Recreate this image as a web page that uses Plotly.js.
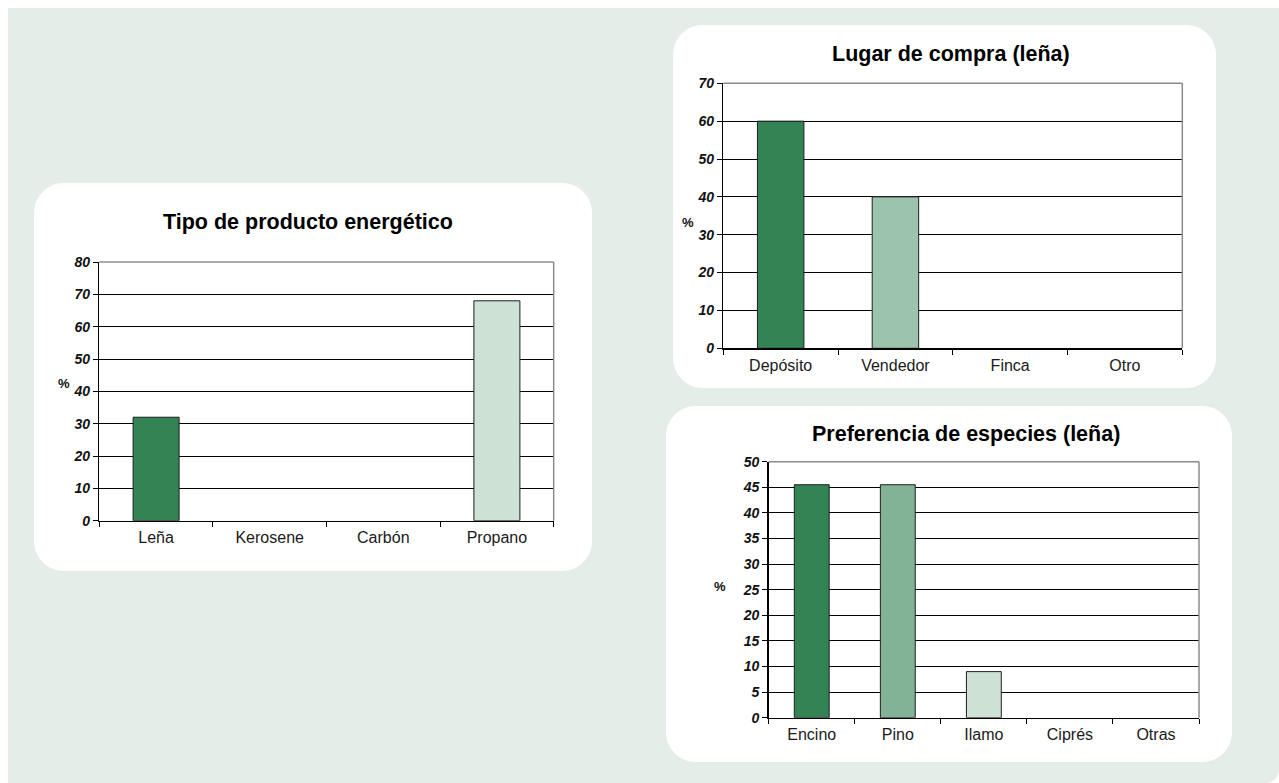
<!DOCTYPE html>
<html>
<head>
<meta charset="utf-8">
<script src="https://cdn.plot.ly/plotly-3.0.1.min.js"></script>
<style>html,body{margin:0;padding:0;background:#fff;}#chart{width:1279px;height:783px;}</style>
</head>
<body>
<div id="chart"></div>
<script>
// ---- data ----
const cat1 = ["Leña", "Kerosene", "Carbón", "Propano"];
const val1 = [32, 0, 0, 68];
const col1 = ["#338355", "#82b396", "#9cc4ad", "#cde1d4"];
const title1 = "Tipo de producto energético";
const yticks1 = [0, 10, 20, 30, 40, 50, 60, 70, 80];

const cat2 = ["Depósito", "Vendedor", "Finca", "Otro"];
const val2 = [60, 40, 0, 0];
const col2 = ["#338355", "#9cc4ad", "#cde1d4", "#cde1d4"];
const title2 = "Lugar de compra (leña)";
const yticks2 = [0, 10, 20, 30, 40, 50, 60, 70];

const cat3 = ["Encino", "Pino", "Ilamo", "Ciprés", "Otras"];
const val3 = [45.5, 45.5, 9, 0, 0];
const col3 = ["#338355", "#82b396", "#cde1d4", "#cde1d4", "#cde1d4"];
const title3 = "Preferencia de especies (leña)";
const yticks3 = [0, 5, 10, 15, 20, 25, 30, 35, 40, 45, 50];

const yLabel = "%";

// ---- layout helpers ----
const W = 1279, H = 783;
const px = x => x / W;
const py = y => 1 - y / H;
const FONT = "Liberation Sans, Arial, Helvetica, sans-serif";

function roundRect(x0, y0, x1, y1, r) {
  const k = 0.5523 * r;
  const P = (x, y) => px(x).toFixed(6) + "," + py(y).toFixed(6);
  return "M" + P(x0 + r, y0) +
    " L" + P(x1 - r, y0) +
    " C" + P(x1 - r + k, y0) + " " + P(x1, y0 + r - k) + " " + P(x1, y0 + r) +
    " L" + P(x1, y1 - r) +
    " C" + P(x1, y1 - r + k) + " " + P(x1 - r + k, y1) + " " + P(x1 - r, y1) +
    " L" + P(x0 + r, y1) +
    " C" + P(x0 + r - k, y1) + " " + P(x0, y1 - r + k) + " " + P(x0, y1 - r) +
    " L" + P(x0, y0 + r) +
    " C" + P(x0, y0 + r - k) + " " + P(x0 + r - k, y0) + " " + P(x0 + r, y0) + " Z";
}
function bgPath() {
  const P = (x, y) => px(x).toFixed(6) + "," + py(y).toFixed(6);
  return "M" + P(8, 8) + " L" + P(1279, 8) + " L" + P(1279, 768) +
    " Q" + P(1279, 783) + " " + P(1264, 783) + " L" + P(8, 783) + " Z";
}

function barTrace(cats, vals, cols, xa, ya) {
  return {
    type: "bar", x: cats, y: vals, xaxis: xa, yaxis: ya,
    marker: { color: cols, line: { color: "#1e1e1e", width: vals.map(v => v > 0 ? 1 : 0) } },
    hoverinfo: "skip", showlegend: false
  };
}

function xAxis(dom, anchor) {
  return {
    domain: dom, anchor: anchor, type: "category",
    showgrid: false, zeroline: false,
    showline: true, linecolor: "#000", linewidth: 1.5,
    ticks: "outside", tickson: "boundaries", ticklen: 5, tickcolor: "#000", tickwidth: 1,
    ticklabelstandoff: 2,
    tickfont: { family: FONT, size: 16, color: "#1a1a1a" },
    fixedrange: true
  };
}
function yAxis(dom, anchor, ticks) {
  return {
    domain: dom, anchor: anchor,
    range: [ticks[0], ticks[ticks.length - 1]],
    tickvals: ticks, ticktext: ticks.map(String),
    showgrid: true, gridcolor: "#000", gridwidth: 1,
    zeroline: false,
    showline: true, linecolor: "#000", linewidth: 1.5,
    ticks: "outside", ticklen: 5, tickcolor: "#000", tickwidth: 1,
    ticklabelstandoff: 0,
    tickfont: { family: FONT, size: 14, color: "#111", weight: "bold", style: "italic" },
    fixedrange: true
  };
}
function borderLines(xa, ya) {
  const xr = xa + " domain", yr = ya + " domain";
  return [
    { type: "line", xref: xr, yref: yr, x0: 0, y0: 1, x1: 1, y1: 1, line: { color: "#8c8c8c", width: 1.5 }, layer: "above" },
    { type: "line", xref: xr, yref: yr, x0: 1, y0: 0, x1: 1, y1: 1, line: { color: "#8c8c8c", width: 1.5 }, layer: "above" }
  ];
}
function titleAnn(text, x, y) {
  return { text: text, xref: "paper", yref: "paper", x: px(x), y: py(y),
    xanchor: "center", yanchor: "middle", showarrow: false,
    font: { family: FONT, size: 21.5, color: "#000", weight: "bold" } };
}
function pctAnn(x, y) {
  return { text: yLabel, xref: "paper", yref: "paper", x: px(x), y: py(y),
    xanchor: "center", yanchor: "middle", showarrow: false,
    font: { family: FONT, size: 13, color: "#111", weight: "bold" } };
}

const data = [
  barTrace(cat1, val1, col1, "x", "y"),
  barTrace(cat2, val2, col2, "x2", "y2"),
  barTrace(cat3, val3, col3, "x3", "y3")
];

const layout = {
  width: W, height: H,
  margin: { l: 0, r: 0, t: 0, b: 0, pad: 0 },
  paper_bgcolor: "#ffffff",
  plot_bgcolor: "rgba(0,0,0,0)",
  bargap: 0.595,
  showlegend: false,
  hovermode: false,
  xaxis: xAxis([px(99.3), px(553.7)], "y"),
  yaxis: yAxis([py(520.7), py(262)], "x", yticks1),
  xaxis2: xAxis([px(723.3), px(1182.3)], "y2"),
  yaxis2: yAxis([py(348.3), py(83.3)], "x2", yticks2),
  xaxis3: xAxis([px(768.7), px(1199)], "y3"),
  yaxis3: yAxis([py(717.7), py(461.7)], "x3", yticks3),
  shapes: [
    { type: "path", xref: "paper", yref: "paper", path: bgPath(), fillcolor: "#e4ede8", line: { width: 0 }, layer: "below" },
    { type: "path", xref: "paper", yref: "paper", path: roundRect(34, 183, 592, 571, 30), fillcolor: "#ffffff", line: { width: 0 }, layer: "below" },
    { type: "path", xref: "paper", yref: "paper", path: roundRect(673, 25, 1216, 388, 30), fillcolor: "#ffffff", line: { width: 0 }, layer: "below" },
    { type: "path", xref: "paper", yref: "paper", path: roundRect(666, 406, 1232, 762, 30), fillcolor: "#ffffff", line: { width: 0 }, layer: "below" }
  ].concat(borderLines("x", "y"), borderLines("x2", "y2"), borderLines("x3", "y3")),
  annotations: [
    titleAnn(title1, 308, 222),
    titleAnn(title2, 950.6, 53.5),
    titleAnn(title3, 966, 433.5),
    pctAnn(63.7, 384),
    pctAnn(688.2, 222.3),
    pctAnn(720, 586)
  ]
};

Plotly.newPlot("chart", data, layout, { staticPlot: true, displayModeBar: false });
</script>
</body>
</html>
